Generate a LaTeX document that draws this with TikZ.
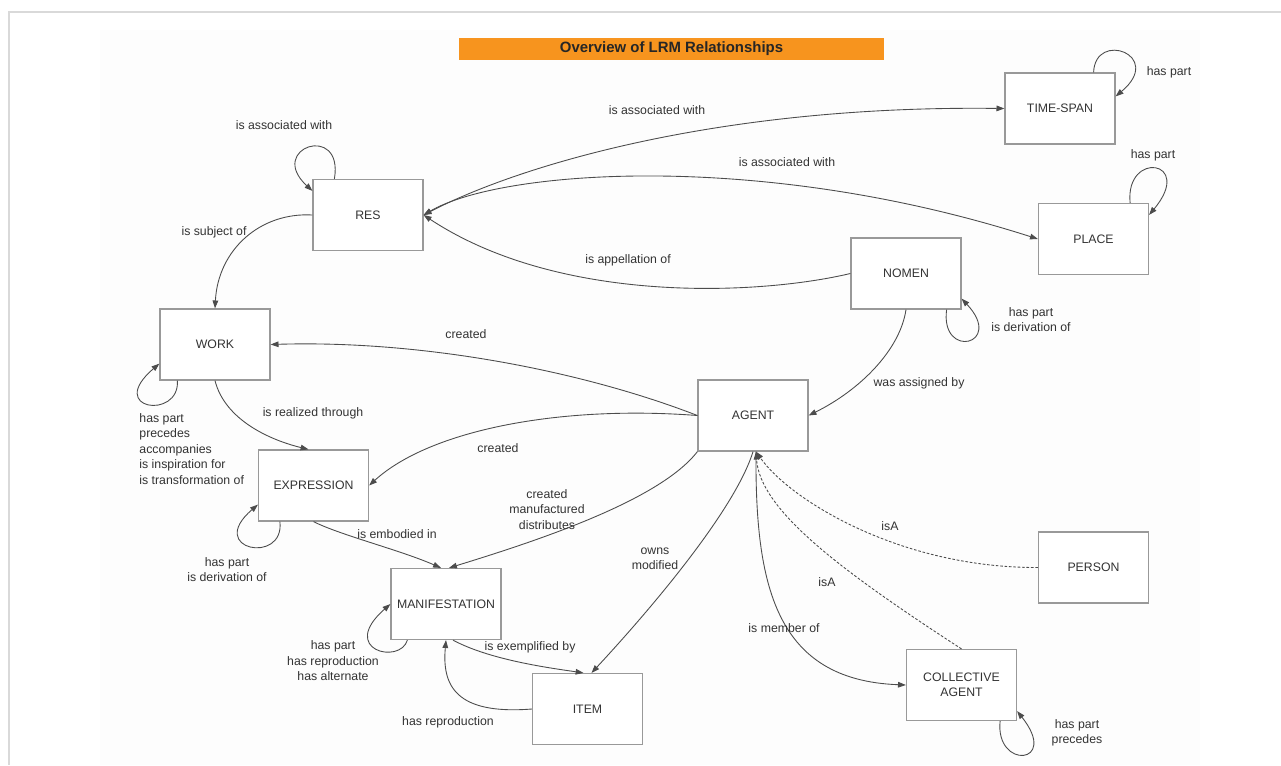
\documentclass[tikz,border=0pt]{standalone}
\usepackage{fontspec}
\setmainfont{Liberation Sans}
\usetikzlibrary{arrows.meta}

\definecolor{barorange}{HTML}{F7941E}
\tikzset{
  entity/.style={draw=black!40, line width=0.7pt, fill=white, minimum width=2.2cm, minimum height=1.42cm, align=center, text=black!80, font=\fontsize{7}{8.8}\selectfont},
  rel/.style={draw=black!70, line width=0.5pt, >={Triangle[length=4.5pt,width=3.2pt]}},
  isa/.style={rel, dash pattern=on 1.5pt off 1pt},
  lbl/.style={text=black!80, align=center, inner sep=0pt, font=\fontsize{7}{8.8}\selectfont},
}

\begin{document}
\begin{tikzpicture}[x=0.02cm, y=-0.02cm]
    \useasboundingbox (0,0) rectangle (1281,765);
    \fill[black!0.7] (100,30) rectangle (1200,765);
    \draw[black!15, line width=1pt] (1281,12) -- (9,12) -- (9,765);

    \node[fill=barorange, minimum width=8.5cm, minimum height=0.44cm, inner sep=0pt, text=black!85, font=\fontsize{8.5}{10}\selectfont\bfseries] (title) at (671.5,49) {Overview of LRM Relationships};

    \node[entity] (res) at (368,215) {RES};
    \node[entity] (work) at (215,344.5) {WORK};
    \node[entity] (expr) at (313.5,485.5) {EXPRESSION};
    \node[entity] (manif) at (446,604) {MANIFESTATION};
    \node[entity] (item) at (587.5,709) {ITEM};
    \node[entity] (tspan) at (1060,108.5) {TIME-SPAN};
    \node[entity] (place) at (1093.5,239) {PLACE};
    \node[entity] (nomen) at (906,273.5) {NOMEN};
    \node[entity] (agent) at (753,415.5) {AGENT};
    \node[entity] (person) at (1093.5,567.5) {PERSON};
    \node[entity] (collag) at (961.5,685) {COLLECTIVE\\AGENT};

    \draw[rel,->] ([shift={(22,0)}]res.north west) .. controls (344,122) and (266,148) .. ([shift={(0,12)}]res.north west) node[lbl] (l-res) at (284,125) {is associated with};
    \draw[rel,<->] (res.east) .. controls (520,165) and (720,105) .. (tspan.west) node[lbl] (l-tspan) at (657,110) {is associated with};
    \draw[rel,<->] (res.east) .. controls (500,170) and (760,150) .. (place.west) node[lbl] (l-place) at (787,162) {is associated with};
    \draw[rel,->] (nomen.west) .. controls (760,295) and (560,305) .. (res.east) node[lbl] (l-appel) at (628,260) {is appellation of};
    \draw[rel,->] (res.west) .. controls (260,212) and (218,250) .. (work.north) node[lbl] (l-subj) at (214,232) {is subject of};

    \draw[rel,->] ([shift={(-22,0)}]tspan.north east) .. controls (1095,30) and (1165,55) .. ([shift={(0,24)}]tspan.north east) node[lbl] (l-tspanpart) at (1169,72) {has part};
    \draw[rel,->] ([shift={(-19,0)}]place.north east) .. controls (1125,150) and (1195,160) .. ([shift={(0,12)}]place.north east) node[lbl] (l-placepart) at (1153,155) {has part};
    \draw[rel,->] ([shift={(-15,0)}]nomen.south east) .. controls (940,360) and (1005,345) .. ([shift={(0,-11)}]nomen.south east) node[lbl] (l-nomenpart) at (1031,319.5) {has part\\is derivation of};
    \draw[rel,->] (nomen.south) .. controls (900,350) and (860,390) .. (agent.east) node[lbl] (l-assign) at (919,383) {was assigned by};

    \draw[rel,->] (agent.west) .. controls (580,370) and (420,340) .. (work.east) node[lbl] (l-crwork) at (466,334) {created};
    \draw[rel,->] (agent.west) .. controls (560,405) and (430,430) .. (expr.east) node[lbl] (l-crexpr) at (498,448) {created};
    \draw[rel,->] (agent.south west) .. controls (660,500) and (540,540) .. ([shift={(3,0)}]manif.north) node[lbl] (l-crmanif) at (547,509.5) {created\\manufactured\\distributes};
    \draw[rel,->] (agent.south) .. controls (735,510) and (650,610) .. ([shift={(4,0)}]item.north) node[lbl] (l-owns) at (655,559) {owns\\modified};

    \draw[rel,->] ([shift={(18,0)}]work.south west) .. controls (180,420) and (105,410) .. ([shift={(0,-17)}]work.south west) node[lbl, align=left, anchor=west] (l-workpart) at (139,449) {has part\\precedes\\accompanies\\is inspiration for\\is transformation of};
    \draw[rel,->] (work.south) .. controls (225,420) and (270,440) .. ([shift={(-5,0)}]expr.north) node[lbl] (l-real) at (313,413) {is realized through};
    \draw[rel,->] ([shift={(22,0)}]expr.south west) .. controls (285,565) and (205,550) .. ([shift={(0,-17)}]expr.south west) node[lbl] (l-exprpart) at (227,569.5) {has part\\is derivation of};
    \draw[rel,->] (expr.south) .. controls (340,535) and (400,550) .. ([shift={(-5,0)}]manif.north) node[lbl] (l-embod) at (397,534) {is embodied in};

    \draw[rel,->] ([shift={(17,0)}]manif.south west) .. controls (400,665) and (338,650) .. (manif.west) node[lbl] (l-manifpart) at (333,661) {has part\\has reproduction\\has alternate};
    \draw[rel,->] ([shift={(7,0)}]manif.south) .. controls (490,660) and (550,668) .. ([shift={(-4,0)}]item.north) node[lbl] (l-exempl) at (530,647) {is exemplified by};
    \draw[rel,->] (item.west) .. controls (455,715) and (442,685) .. (manif.south) node[lbl] (l-repro) at (448,722) {has reproduction};

    \draw[rel,->] ([shift={(3,0)}]agent.south) .. controls (755,585) and (775,680) .. (collag.west) node[lbl] (l-member) at (784,628) {is member of};
    \draw[isa,->] (person.west) .. controls (900,568) and (790,500) .. ([shift={(3,0)}]agent.south) node[lbl] (l-isaperson) at (890,526) {isA};
    \draw[isa,->] (collag.north) .. controls (840,570) and (760,510) .. ([shift={(3,0)}]agent.south) node[lbl] (l-isacoll) at (827,582) {isA};
    \draw[rel,->] ([shift={(-17,0)}]collag.south east) .. controls (995,770) and (1060,765) .. ([shift={(0,-10)}]collag.south east) node[lbl] (l-collpart) at (1077,733) {has part\\precedes};
\end{tikzpicture}
\end{document}
